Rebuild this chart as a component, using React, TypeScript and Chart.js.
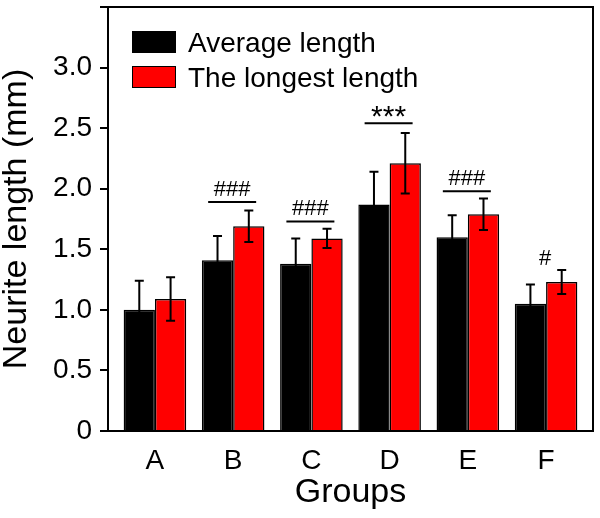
import React, { useEffect, useRef } from 'react';
import { Chart, registerables } from 'chart.js';

Chart.register(...registerables);

const categories = ['A', 'B', 'C', 'D', 'E', 'F'];
const seriesLabels = ['Average length', 'The longest length'];
const seriesColors = ['#000000', '#ff0000'];
const averageLength = [1.0, 1.41, 1.38, 1.87, 1.6, 1.05];
const averageError = [0.24, 0.2, 0.21, 0.27, 0.18, 0.16];
const longestLength = [1.09, 1.69, 1.59, 2.21, 1.79, 1.23];
const longestError = [0.18, 0.13, 0.08, 0.25, 0.13, 0.1];
const yTickLabels = ['0', '0.5', '1.0', '1.5', '2.0', '2.5', '3.0', ''];
const significanceMarks = ['', '###', '###', '***', '###', '#'];
const significanceLevels = [0, 1.89, 1.73, 2.54, 1.98, 1.32];
const significanceHasLine = [false, true, true, true, true, false];

const FONT = '"Liberation Sans", Arial, sans-serif';
const values = [averageLength, longestLength];
const errors = [averageError, longestError];

const decorPlugin = {
  id: 'decor',
  afterDatasetsDraw(chart: any) {
    const ctx = chart.ctx as CanvasRenderingContext2D;
    const xs = chart.scales.x;
    const ys = chart.scales.y;
    const area = chart.chartArea;
    ctx.save();
    ctx.strokeStyle = '#000';
    ctx.lineWidth = 2;
    // error bars
    chart.data.datasets.forEach((_: any, di: number) => {
      const meta = chart.getDatasetMeta(di);
      meta.data.forEach((el: any, i: number) => {
        const v = values[di][i];
        const e = errors[di][i];
        const top = ys.getPixelForValue(v + e);
        const bot = ys.getPixelForValue(v - e);
        ctx.beginPath();
        ctx.moveTo(el.x, top);
        ctx.lineTo(el.x, bot);
        ctx.moveTo(el.x - 4.5, top);
        ctx.lineTo(el.x + 4.5, top);
        ctx.moveTo(el.x - 4.5, bot);
        ctx.lineTo(el.x + 4.5, bot);
        ctx.stroke();
      });
    });
    // significance marks
    categories.forEach((_, i) => {
      const mark = significanceMarks[i];
      if (!mark) return;
      const cx = xs.getPixelForValue(i);
      const ly = ys.getPixelForValue(significanceLevels[i]);
      if (significanceHasLine[i]) {
        ctx.beginPath();
        ctx.moveTo(cx - 25, ly);
        ctx.lineTo(cx + 23, ly);
        ctx.stroke();
      }
      ctx.fillStyle = '#000';
      ctx.font = (mark.includes('*') ? '30px ' : '22px ') + FONT;
      ctx.textAlign = 'center';
      ctx.textBaseline = 'alphabetic';
      const m = ctx.measureText(mark);
      ctx.fillText(mark, cx - 1, ly - 6 - m.actualBoundingBoxDescent);
    });
    // frame top & right
    ctx.beginPath();
    ctx.moveTo(area.left, area.top);
    ctx.lineTo(area.right, area.top);
    ctx.lineTo(area.right, area.bottom);
    ctx.stroke();
    // legend
    ctx.font = '28px ' + FONT;
    ctx.textAlign = 'left';
    ctx.textBaseline = 'alphabetic';
    seriesLabels.forEach((label, i) => {
      const bx = area.left + 24;
      const by = area.top + 24 + i * 35;
      ctx.fillStyle = seriesColors[i];
      ctx.fillRect(bx, by, 44, 22);
      ctx.lineWidth = 1;
      ctx.strokeRect(bx + 0.5, by + 0.5, 43, 21);
      ctx.fillStyle = '#000';
      ctx.fillText(label, bx + 56, by + 21);
    });
    ctx.restore();
  },
};

export default function App() {
  const ref = useRef<HTMLCanvasElement | null>(null);
  useEffect(() => {
    if (!ref.current) return;
    const chart = new Chart(ref.current, {
      type: 'bar',
      data: {
        datasets: seriesLabels.map((label, di) => ({
          label,
          data: values[di].map((v, i) => ({ x: i, y: v })),
          backgroundColor: seriesColors[di],
          borderColor: '#000',
          borderWidth: 1.5,
          categoryPercentage: 0.8,
          barPercentage: 1.0,
        })),
      },
      options: {
        animation: false,
        responsive: true,
        maintainAspectRatio: false,
        layout: { padding: { top: 7, right: 7, left: 0, bottom: 0 } },
        plugins: { legend: { display: false }, tooltip: { enabled: false } },
        scales: {
          x: {
            type: 'linear',
            min: -0.6,
            max: 5.6,
            offset: false,
            grid: { display: false, offset: false },
            border: { display: true, color: '#000', width: 2 },
            afterBuildTicks: (s: any) => {
              s.ticks = categories.map((_, i) => ({ value: i }));
            },
            afterFit: (s: any) => {
              s.height = 87;
              s.paddingLeft = 0;
              s.paddingRight = 0;
            },
            ticks: {
              color: '#000',
              font: { family: FONT, size: 28 },
              padding: 5,
              maxRotation: 0,
              autoSkip: false,
              callback: (v: any) => categories[v] ?? '',
            },
            title: {
              display: true,
              text: 'Groups',
              color: '#000',
              font: { family: FONT, size: 34, lineHeight: 1 },
              padding: { top: 0, bottom: 8 },
            },
          },
          y: {
            type: 'linear',
            min: 0,
            max: 3.5,
            grid: {
              display: true,
              drawOnChartArea: false,
              drawTicks: true,
              tickLength: 8,
              color: '#000',
              lineWidth: 2,
            },
            border: { display: true, color: '#000', width: 2 },
            afterFit: (s: any) => {
              s.width = 108;
              s.paddingTop = 0;
              s.paddingBottom = 0;
            },
            ticks: {
              stepSize: 0.5,
              color: '#000',
              font: { family: FONT, size: 28 },
              padding: 8,
              autoSkip: false,
              callback: (_v: any, i: number) => yTickLabels[i] ?? '',
            },
            title: {
              display: true,
              text: 'Neurite length (mm)',
              color: '#000',
              font: { family: FONT, size: 34, lineHeight: 1 },
              padding: { top: 0, bottom: 0 },
            },
          },
        },
      },
      plugins: [decorPlugin],
    } as any);
    return () => chart.destroy();
  }, []);
  return (
    <div style={{ position: 'absolute', left: 0, top: 0, width: 600, height: 518 }}>
      <canvas ref={ref} />
    </div>
  );
}
